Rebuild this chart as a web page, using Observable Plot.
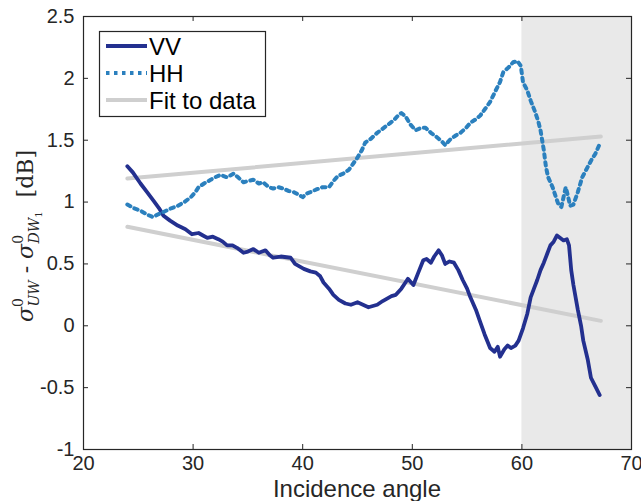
<!DOCTYPE html>
<html>
<head>
<meta charset="utf-8">
<script src="https://cdn.jsdelivr.net/npm/d3@7"></script>
<script src="https://cdn.jsdelivr.net/npm/@observablehq/plot@0.6"></script>
<style>
  html, body { margin: 0; padding: 0; background: #fff; }
  #chart svg { display: block; }
</style>
</head>
<body>
<div id="chart"></div>
<script>
// ---- data ----
const xTicks = [20, 30, 40, 50, 60, 70];
const yTicks = [-1, -0.5, 0, 0.5, 1, 1.5, 2, 2.5];
const yTickLabels = ["-1", "-0.5", "0", "0.5", "1", "1.5", "2", "2.5"];
const shadeStart = 60;
const shadeEnd = 70;

const vvAngle = [24,24.5,25.2,25.8,26.4,26.9,27.3,27.9,28.6,29.3,29.9,30.5,30.9,31.3,31.8,32.3,32.7,33.1,33.6,34.0,34.6,35.0,35.5,36.0,36.6,37.0,37.3,38.0,38.9,39.3,39.7,40.1,40.7,41.2,41.6,41.9,42.4,42.8,43.3,43.9,44.4,45.0,45.5,46.0,46.4,46.8,47.3,47.7,48.1,48.5,49.0,49.3,49.6,49.9,50.1,50.5,51.0,51.3,51.7,52.0,52.4,52.7,53.0,53.4,53.8,54.2,54.6,55.0,55.3,55.8,56.2,56.6,57.1,57.5,57.8,58.0,58.4,58.7,59.0,59.4,59.7,60.1,60.5,60.8,61.1,61.4,61.7,62.0,62.3,62.6,62.9,63.2,63.5,63.8,64.1,64.3,64.5,64.7,65.1,65.4,65.6,66.0,66.3,66.7,67.1];
const vvValue = [1.29,1.24,1.15,1.08,1.01,0.95,0.89,0.85,0.81,0.78,0.74,0.75,0.73,0.71,0.72,0.70,0.68,0.65,0.65,0.63,0.59,0.60,0.62,0.59,0.61,0.57,0.55,0.56,0.55,0.50,0.48,0.46,0.44,0.43,0.40,0.35,0.30,0.25,0.21,0.18,0.17,0.19,0.17,0.15,0.16,0.17,0.20,0.22,0.24,0.25,0.30,0.34,0.38,0.35,0.33,0.42,0.53,0.54,0.51,0.56,0.61,0.57,0.50,0.52,0.51,0.45,0.37,0.30,0.23,0.13,0.03,-0.07,-0.18,-0.21,-0.17,-0.25,-0.19,-0.16,-0.18,-0.16,-0.12,-0.02,0.10,0.23,0.30,0.37,0.45,0.51,0.58,0.65,0.68,0.73,0.71,0.69,0.70,0.65,0.45,0.33,0.13,0.00,-0.12,-0.27,-0.42,-0.49,-0.56];

const hhAngle = [24,24.6,25.2,25.8,26.3,26.8,27.3,28.0,28.6,29.2,29.8,30.2,30.5,31.0,31.6,32.0,32.5,33.1,33.7,34.1,34.6,35.0,35.5,36.0,36.4,36.9,37.3,37.8,38.2,38.7,39.2,39.6,40.0,40.4,40.7,41.2,41.8,42.4,42.8,43.2,43.7,44.2,44.6,45.0,45.4,45.7,46.2,46.8,47.4,48.0,48.4,48.7,49.0,49.4,49.8,50.3,50.8,51.2,51.7,52.3,52.7,53.0,53.5,54.0,54.4,54.9,55.3,55.8,56.2,56.7,57.1,57.6,58.0,58.3,58.8,59.2,59.6,59.9,60.1,60.5,60.8,61.2,61.5,61.7,62.0,62.2,62.4,62.8,63.1,63.3,63.6,64.0,64.2,64.4,64.7,65.1,65.5,65.8,66.1,66.4,66.7,67.1];
const hhValue = [0.98,0.95,0.93,0.90,0.88,0.90,0.92,0.95,0.97,1.00,1.04,1.08,1.12,1.15,1.18,1.20,1.22,1.20,1.23,1.20,1.16,1.17,1.18,1.15,1.16,1.12,1.11,1.12,1.11,1.09,1.08,1.06,1.04,1.07,1.08,1.10,1.12,1.12,1.17,1.21,1.23,1.26,1.31,1.36,1.42,1.48,1.51,1.56,1.60,1.64,1.67,1.70,1.72,1.69,1.63,1.58,1.60,1.60,1.56,1.52,1.49,1.46,1.51,1.54,1.56,1.60,1.64,1.67,1.70,1.76,1.81,1.90,1.97,2.05,2.09,2.13,2.14,2.10,1.97,1.90,1.82,1.73,1.65,1.58,1.42,1.28,1.20,1.12,1.04,0.99,0.96,1.12,1.05,0.97,0.98,1.08,1.20,1.25,1.30,1.35,1.39,1.47];

const fitAngle = [24, 67.2];
const vvFit = [0.80, 0.04];
const hhFit = [1.19, 1.53];

const legendLabels = ["VV", "HH", "Fit to data"];
const xLabel = "Incidence angle";

// ---- styles ----
const C_VV = "#23308f";
const C_HH = "#2b80be";
const C_FIT = "#cfcfcf";
const C_SHADE = "#e9e9e9";
const C_AX = "#262626";

const vv = vvAngle.map((x, i) => ({x, y: vvValue[i]}));
const hh = hhAngle.map((x, i) => ({x, y: hhValue[i]}));
const fits = [
  ...fitAngle.map((x, i) => ({x, y: vvFit[i], s: "vv"})),
  ...fitAngle.map((x, i) => ({x, y: hhFit[i], s: "hh"}))
];
const xMin = xTicks[0], xMax = xTicks[xTicks.length - 1];
const yMin = yTicks[0], yMax = yTicks[yTicks.length - 1];
const tickLenY = 5 / 123.8;  // ~5px in data units
const tickLenX = 5 / 10.96;

const plot = Plot.plot({
  width: 641,
  height: 501,
  marginLeft: 83,
  marginRight: 10,
  marginTop: 16,
  marginBottom: 52,
  style: {fontFamily: "'Liberation Sans', Arial, Helvetica, sans-serif", fontSize: "20px", color: C_AX, background: "#fff"},
  x: {domain: [xMin, xMax]},
  y: {domain: [yMin, yMax]},
  marks: [
    Plot.rect([{x1: shadeStart, x2: shadeEnd}], {x1: "x1", x2: "x2", y1: yMin, y2: yMax, fill: C_SHADE}),
    Plot.line(fits, {x: "x", y: "y", z: "s", stroke: C_FIT, strokeWidth: 4}),
    Plot.line(vv, {x: "x", y: "y", stroke: C_VV, strokeWidth: 3.8, strokeLinejoin: "round"}),
    Plot.line(hh, {x: "x", y: "y", stroke: C_HH, strokeWidth: 4, strokeDasharray: "3.5,4.5"}),
    // inward ticks
    Plot.ruleX(xTicks, {x: d => d, y1: yMin, y2: yMin + tickLenY, stroke: C_AX}),
    Plot.ruleX(xTicks, {x: d => d, y1: yMax, y2: yMax - tickLenY, stroke: C_AX}),
    Plot.ruleY(yTicks, {y: d => d, x1: xMin, x2: xMin + tickLenX, stroke: C_AX}),
    Plot.ruleY(yTicks, {y: d => d, x1: xMax, x2: xMax - tickLenX, stroke: C_AX}),
    Plot.axisX({ticks: xTicks, tickSize: 0, tickPadding: 6, label: null, tickFormat: d => String(d)}),
    Plot.axisY({ticks: yTicks, tickSize: 0, tickPadding: 9, label: null, tickFormat: (d, i) => yTickLabels[i]}),
    Plot.frame({stroke: C_AX, strokeWidth: 1.2})
  ]
});

document.getElementById("chart").appendChild(plot);

// ---- extra text: axis labels and legend ----
const svg = d3.select(plot);
const xs = plot.scale("x");
svg.append("text")
  .attr("x", (xs.apply(xMin) + xs.apply(xMax)) / 2)
  .attr("y", 497)
  .attr("text-anchor", "middle")
  .attr("font-family", "'Liberation Sans', Arial, sans-serif")
  .attr("font-size", 24)
  .attr("fill", C_AX)
  .text(xLabel);

// y label with math-like tspans
const ylab = svg.append("text")
  .attr("transform", "translate(33,236) rotate(-90)")
  .attr("text-anchor", "middle")
  .attr("font-family", "'DejaVu Serif', 'Liberation Serif', serif")
  .attr("font-size", 22)
  .attr("fill", C_AX);
ylab.append("tspan").attr("font-style", "italic").text("σ");
ylab.append("tspan").attr("font-size", 14).attr("dy", -10).text("0");
ylab.append("tspan").attr("font-size", 14).attr("font-style", "italic").attr("dx", -8.5).attr("dy", 16).text("UW");
ylab.append("tspan").attr("dy", -6).text(" - ");
ylab.append("tspan").attr("font-style", "italic").text("σ");
ylab.append("tspan").attr("font-size", 14).attr("dy", -10).text("0");
ylab.append("tspan").attr("font-size", 14).attr("font-style", "italic").attr("dx", -8.5).attr("dy", 16).text("DW");
ylab.append("tspan").attr("font-size", 10).attr("dy", 3).text("1");
ylab.append("tspan").attr("dy", -9).text("  [dB]");

// legend
const lg = svg.append("g").attr("text-anchor", "start");
lg.append("rect").attr("x", 99.5).attr("y", 31.5).attr("width", 166).attr("height", 85)
  .attr("fill", "#fff").attr("stroke", C_AX).attr("stroke-width", 1.2);
const legendStyles = [
  {stroke: C_VV, width: 3.8, dash: null},
  {stroke: C_HH, width: 4, dash: "3.5,4.5"},
  {stroke: C_FIT, width: 4, dash: null}
];
legendLabels.forEach((lab, i) => {
  const cy = 46 + i * 27;
  const st = legendStyles[i];
  const ln = lg.append("line").attr("x1", 106).attr("x2", 147).attr("y1", cy).attr("y2", cy)
    .attr("stroke", st.stroke).attr("stroke-width", st.width);
  if (st.dash) ln.attr("stroke-dasharray", st.dash);
  lg.append("text").attr("x", 149).attr("y", cy).attr("dy", "0.36em")
    .attr("text-anchor", "start")
    .attr("font-family", "'Liberation Sans', Arial, sans-serif")
    .attr("font-size", 24).attr("fill", "#000").text(lab);
});
</script>
</body>
</html>
